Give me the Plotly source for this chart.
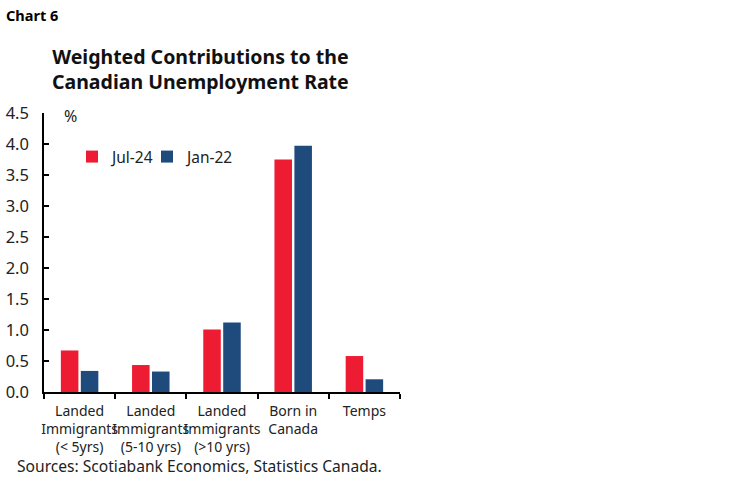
import plotly.graph_objects as go

categories = [
    "Landed<br>Immigrants<br>(< 5yrs)",
    "Landed<br>Immigrants<br>(5-10 yrs)",
    "Landed<br>Immigrants<br>(>10 yrs)",
    "Born in<br>Canada",
    "Temps",
]
jul_24 = [0.67, 0.435, 1.01, 3.75, 0.58]
jan_22 = [0.34, 0.33, 1.12, 3.97, 0.205]
y_ticks = [0.0, 0.5, 1.0, 1.5, 2.0, 2.5, 3.0, 3.5, 4.0, 4.5]

FONT = "Noto Sans"

# plot area in pixels: x 44..400, y 113..392
L, R, T, B = 44, 400, 113, 392


def px(x):
    return (x - L) / (R - L)


def py(y):
    return (B - y) / (B - T)


fig = go.Figure()
fig.add_trace(go.Bar(x=categories, y=jul_24, name="Jul-24", legend="legend",
                     marker=dict(color="#EE1C33", line=dict(width=0))))
fig.add_trace(go.Bar(x=categories, y=jan_22, name="Jan-22", legend="legend2",
                     marker=dict(color="#1F4A7C", line=dict(width=0))))

legend_style = dict(orientation="h", yanchor="middle", xanchor="left",
                    bgcolor="rgba(0,0,0,0)", font=dict(size=15.5, family=FONT),
                    itemwidth=30)

fig.update_layout(
    width=749, height=482,
    margin=dict(l=L, r=749 - R, t=T, b=482 - B, autoexpand=False),
    paper_bgcolor="white", plot_bgcolor="white",
    font=dict(family=FONT, color="#222222", size=14),
    barmode="group", bargap=0.44, bargroupgap=0.12,
    showlegend=True,
    legend=dict(x=px(72), y=py(157), **legend_style),
    legend2=dict(x=px(147), y=py(157), **legend_style),
)

fig.update_xaxes(
    type="category", showline=True, linecolor="black", linewidth=1.5,
    ticks="outside", tickson="boundaries", ticklen=5, tickcolor="black",
    tickwidth=1.5, showgrid=False, tickfont=dict(size=14, family=FONT),
    tickangle=0, automargin=False, ticklabelstandoff=5, range=[-0.5, 4.5],
)
fig.update_yaxes(
    range=[0, 4.5], tickvals=y_ticks, tickformat=".1f",
    showline=True, linecolor="black", linewidth=1.5,
    ticks="inside", ticklen=5, tickcolor="black", tickwidth=1.5,
    showgrid=False, zeroline=False, tickfont=dict(size=16.5, family=FONT),
    ticklabelstandoff=10, automargin=False,
)

fig.add_annotation(text="<b>Chart 6</b>", xref="paper", yref="paper",
                   x=px(4), y=py(15), showarrow=False,
                   xanchor="left", yanchor="middle",
                   font=dict(size=14.5, family=FONT, color="black"))
fig.add_annotation(text="<b>Weighted Contributions to the<br>Canadian Unemployment Rate</b>",
                   xref="paper", yref="paper", x=px(200), y=py(69),
                   showarrow=False, xanchor="center", yanchor="middle",
                   font=dict(size=19.5, family=FONT, color="#111111"))
fig.add_annotation(text="%", xref="paper", yref="paper", x=px(62),
                   y=py(116), showarrow=False, xanchor="left",
                   yanchor="middle", font=dict(size=16, family=FONT))
fig.add_annotation(text="Sources: Scotiabank Economics, Statistics Canada.",
                   xref="paper", yref="paper", x=px(15), y=py(466),
                   showarrow=False, xanchor="left", yanchor="middle",
                   font=dict(size=15.6, family=FONT))

fig.write_html("out.html", config={"displayModeBar": False},
               post_script="document.body.style.margin='0';")
